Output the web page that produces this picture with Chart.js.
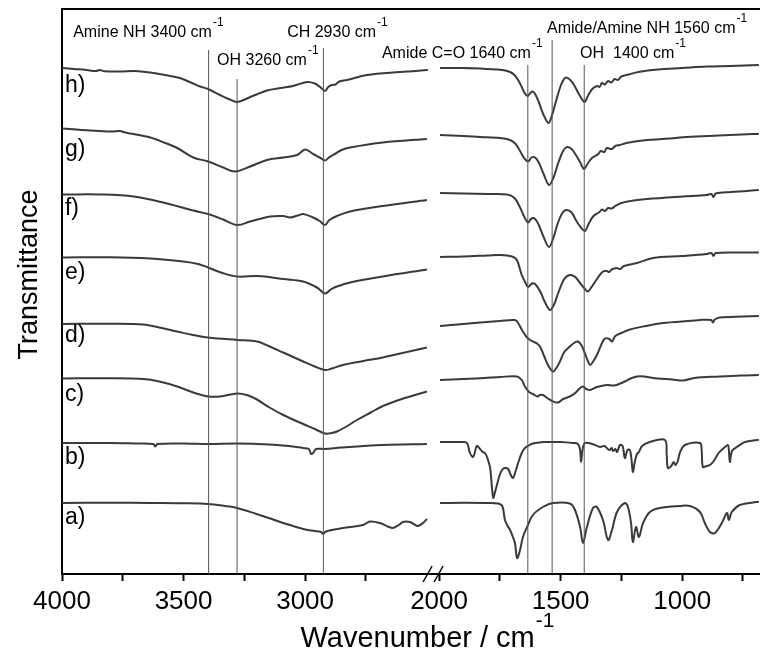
<!DOCTYPE html>
<html>
<head>
<meta charset="utf-8">
<script src="https://cdn.jsdelivr.net/npm/chart.js@4.4.1/dist/chart.umd.min.js"></script>
<style>
  html, body { margin: 0; padding: 0; background: #fff; }
</style>
</head>
<body>
<canvas id="ftir" width="760" height="660"></canvas>
<script>
// FTIR spectra, stacked traces a) .. h), transmittance in arbitrary units (offset per trace)
// each segment is [wavenumber, transmittance] pairs, high = 4000-2500, low = 2000-680

const aHigh = [[3999,14.2],[3800,14.25],[3637,14.2],[3500,14.15],[3399,14.0],[3330,13.6],[3280,13.2],[3200,12.0],[3150,11.2],[3090,10.2],[3008,9.0],[2960,8.6],[2935,8.4],[2926,8.0],[2918,8.4],[2890,8.8],[2844,9.2],[2762,9.8],[2733,10.5],[2692,10.2],[2660,9.5],[2639,9.2],[2615,9.8],[2598,10.4],[2569,10.4],[2550,9.9],[2536,9.6],[2515,10.2],[2499,11.0]];
const aLow = [[1996,14.2],[1900,14.25],[1800,14.2],[1758,14.1],[1740,13.6],[1729,10.8],[1718,9.6],[1708,8.8],[1698,7.6],[1688,6.2],[1679,3.2],[1667,4.8],[1655,7.4],[1638,9.4],[1614,11.8],[1573,13.4],[1531,14.2],[1462,14.1],[1441,12.8],[1420,9.4],[1408,6.2],[1392,9.4],[1367,13.2],[1351,13.4],[1326,10.8],[1305,6.8],[1289,8.8],[1268,12.4],[1236,14.2],[1223,13.4],[1210,10.0],[1203,6.4],[1190,9.4],[1178,7.4],[1161,10.2],[1133,12.4],[1092,13.2],[1009,13.6],[968,13.6],[927,12.4],[907,10.2],[886,8.4],[866,8.2],[837,10.2],[816,12.2],[808,10.8],[796,12.4],[763,13.8],[693,14.4],[685,14.4]];

const bHigh = [[3999,26.2],[3800,26.2],[3700,26.1],[3625,26.0],[3616,25.5],[3608,26.0],[3500,26.1],[3399,26.0],[3280,26.1],[3150,25.9],[3050,25.5],[3008,25.2],[2985,25.0],[2975,24.0],[2967,24.2],[2955,25.0],[2918,25.0],[2850,25.3],[2680,25.8],[2499,26.0]];
const bLow = [[1996,26.4],[1900,26.4],[1885,26.2],[1873,24.2],[1862,23.4],[1856,23.8],[1845,25.6],[1835,25.2],[1820,24.4],[1811,24.2],[1800,23.0],[1790,21.2],[1782,17.0],[1777,15.2],[1770,16.4],[1762,17.8],[1752,19.6],[1741,20.8],[1730,21.2],[1716,21.0],[1705,19.8],[1696,19.2],[1685,20.6],[1675,22.2],[1660,24.2],[1647,25.2],[1620,26.0],[1605,26.2],[1570,26.4],[1544,26.4],[1500,26.4],[1450,26.2],[1429,26.0],[1420,24.8],[1416,22.4],[1410,24.8],[1400,26.2],[1370,26.0],[1338,25.4],[1320,25.6],[1300,24.8],[1290,25.2],[1285,24.6],[1275,25.0],[1268,24.4],[1256,25.8],[1245,25.6],[1236,23.2],[1225,24.8],[1215,24.8],[1208,22.6],[1203,20.4],[1195,22.4],[1186,24.0],[1178,24.4],[1165,25.6],[1133,26.4],[1071,26.8],[1064,24.0],[1059,21.2],[1045,21.6],[1035,22.4],[1028,21.8],[1018,22.6],[1010,24.2],[989,25.8],[927,26.2],[920,24.8],[915,21.4],[900,21.6],[886,21.8],[870,22.6],[850,24.2],[824,25.4],[812,25.8],[808,24.8],[804,22.4],[795,24.6],[775,25.4],[742,26.4],[693,26.8],[685,26.8]];

const cHigh = [[3999,39.1],[3800,39.15],[3665,39.0],[3600,38.5],[3526,37.5],[3460,36.3],[3399,35.5],[3350,35.5],[3280,36.1],[3240,35.8],[3198,34.9],[3150,33.4],[3090,31.8],[3008,30.0],[2960,29.0],[2918,28.1],[2890,28.2],[2869,28.5],[2830,29.5],[2787,30.8],[2730,32.3],[2680,33.6],[2590,35.2],[2499,36.5]];
const cLow = [[1996,38.8],[1850,39.1],[1750,39.4],[1679,39.5],[1660,38.8],[1647,37.5],[1630,36.4],[1614,36.0],[1595,35.5],[1585,35.8],[1573,35.8],[1555,35.2],[1535,34.6],[1511,34.3],[1490,35.0],[1462,35.5],[1440,36.2],[1420,37.2],[1408,37.5],[1395,37.0],[1379,36.8],[1350,37.4],[1310,37.8],[1280,37.7],[1250,38.2],[1186,39.5],[1100,39.1],[1040,38.9],[997,38.7],[950,39.2],[845,39.5],[760,39.7],[685,39.8]];

const dHigh = [[3999,50.0],[3800,50.05],[3665,49.9],[3600,49.3],[3526,48.5],[3460,47.8],[3399,47.3],[3280,46.8],[3198,46.5],[3150,45.6],[3090,44.3],[3008,42.5],[2960,41.5],[2918,40.8],[2890,41.1],[2844,41.8],[2760,42.6],[2680,43.3],[2590,44.3],[2499,45.3]];
const dLow = [[1996,49.6],[1900,50.0],[1831,50.3],[1750,50.6],[1688,50.8],[1675,50.2],[1659,48.8],[1640,47.4],[1626,46.8],[1610,46.4],[1597,46.1],[1585,45.5],[1568,43.6],[1552,41.8],[1531,40.5],[1515,41.4],[1503,42.5],[1485,44.4],[1462,45.5],[1445,46.2],[1429,46.5],[1415,45.8],[1400,44.1],[1388,42.6],[1379,41.8],[1365,42.6],[1351,43.8],[1335,45.6],[1318,47.1],[1300,47.0],[1289,46.5],[1275,47.6],[1250,48.2],[1215,48.9],[1150,49.6],[1092,50.1],[1000,50.5],[927,50.8],[880,50.8],[874,50.3],[866,50.9],[845,51.3],[750,51.5],[685,51.6]];

const eHigh = [[3999,63.3],[3800,63.35],[3637,63.1],[3501,62.5],[3440,62.0],[3399,61.3],[3340,60.2],[3280,59.5],[3198,59.6],[3150,59.4],[3090,59.0],[3008,58.5],[2951,57.3],[2918,56.1],[2895,56.9],[2869,57.5],[2815,58.3],[2680,59.5],[2499,60.9]];
const eLow = [[1996,63.4],[1900,63.5],[1800,63.7],[1749,63.8],[1700,63.5],[1680,62.8],[1660,59.8],[1645,58.3],[1634,57.4],[1618,58.1],[1605,58.0],[1585,56.6],[1565,54.4],[1544,52.8],[1528,53.8],[1510,56.2],[1485,59.0],[1462,59.8],[1440,59.4],[1420,58.2],[1400,57.0],[1388,56.5],[1370,57.6],[1345,59.4],[1326,60.5],[1310,60.6],[1300,60.4],[1290,60.9],[1270,61.2],[1255,61.0],[1240,61.6],[1186,62.2],[1120,63.2],[1000,63.6],[900,64.0],[880,64.2],[872,63.6],[862,64.2],[760,64.3],[685,64.3]];

const fHigh = [[3999,75.9],[3843,75.9],[3706,75.5],[3568,74.1],[3460,72.7],[3399,72.0],[3337,70.9],[3280,69.8],[3226,70.5],[3144,71.5],[3090,71.6],[3061,71.3],[3030,71.7],[3008,72.0],[2967,71.3],[2940,70.6],[2918,69.8],[2900,70.8],[2869,71.6],[2815,72.5],[2680,73.6],[2499,74.8]];
const fLow = [[1996,76.2],[1900,76.1],[1800,76.0],[1720,75.9],[1690,75.2],[1670,73.6],[1650,71.5],[1634,70.3],[1620,71.1],[1605,71.0],[1590,69.8],[1570,67.4],[1548,65.4],[1530,67.2],[1510,70.4],[1490,72.4],[1474,72.8],[1455,72.3],[1435,70.6],[1415,69.2],[1400,68.6],[1385,70.0],[1365,71.6],[1340,72.4],[1330,72.9],[1318,72.6],[1305,73.2],[1290,73.1],[1275,73.6],[1250,74.2],[1200,74.7],[1145,75.0],[1000,75.5],[900,75.8],[880,76.0],[872,75.4],[862,76.1],[800,76.4],[685,76.8]];

const gHigh = [[3999,89.1],[3940,88.9],[3883,88.7],[3801,88.5],[3760,88.6],[3748,88.4],[3719,88.1],[3637,87.3],[3580,86.3],[3526,85.2],[3460,83.3],[3399,82.5],[3337,81.3],[3288,80.5],[3226,81.5],[3157,82.8],[3090,83.3],[3033,83.8],[3000,84.9],[2967,84.0],[2940,83.3],[2918,82.7],[2900,83.4],[2885,83.8],[2850,84.8],[2815,85.3],[2680,86.3],[2499,87.0]];
const gLow = [[1996,87.8],[1900,87.6],[1831,87.4],[1750,87.2],[1708,86.8],[1685,86.0],[1667,84.6],[1650,83.2],[1634,82.5],[1620,83.3],[1605,83.3],[1590,82.3],[1570,80.0],[1548,77.8],[1530,79.2],[1510,82.2],[1490,84.6],[1474,85.4],[1455,85.0],[1440,84.0],[1420,82.4],[1404,81.0],[1390,82.0],[1371,83.2],[1345,84.0],[1335,84.6],[1320,84.4],[1310,85.2],[1290,85.0],[1275,85.6],[1256,85.8],[1230,86.2],[1180,86.6],[1145,86.8],[1050,87.1],[981,87.4],[850,87.7],[710,88.0],[685,88.0]];

const hHigh = [[3999,101.2],[3950,101.0],[3900,100.8],[3860,100.6],[3845,100.8],[3825,100.55],[3760,100.5],[3700,100.6],[3637,100.3],[3575,99.8],[3515,99.2],[3470,98.3],[3432,97.5],[3399,97.0],[3350,95.8],[3310,94.9],[3280,94.4],[3230,95.3],[3157,96.7],[3100,97.2],[3050,97.6],[2992,98.4],[2960,98.1],[2938,97.4],[2918,96.6],[2905,97.4],[2890,97.8],[2875,97.9],[2860,98.5],[2828,98.8],[2746,99.8],[2610,100.4],[2495,100.8]];
const hLow = [[1996,101.2],[1900,101.2],[1800,101.0],[1740,100.8],[1708,100.4],[1690,99.8],[1675,98.8],[1660,97.4],[1648,96.2],[1636,95.6],[1625,96.2],[1615,96.5],[1605,96.0],[1590,94.4],[1570,91.8],[1550,90.2],[1538,91.4],[1520,94.4],[1500,97.6],[1482,99.2],[1465,99.0],[1445,97.8],[1425,96.0],[1402,94.4],[1388,95.6],[1370,97.0],[1350,97.6],[1340,97.4],[1330,98.2],[1318,97.9],[1305,98.6],[1292,98.3],[1278,99.0],[1265,98.8],[1250,99.5],[1220,99.9],[1180,100.4],[1100,100.9],[1000,101.2],[900,101.5],[800,101.6],[685,101.8]];

const traceLabels = ['a)', 'b)', 'c)', 'd)', 'e)', 'f)', 'g)', 'h)'];
const traceLabelLevels = [11.2, 23.3, 35.8, 47.6, 60.3, 73.0, 84.8, 97.6];
const highSegments = [aHigh, bHigh, cHigh, dHigh, eHigh, fHigh, gHigh, hHigh];
const lowSegments = [aLow, bLow, cLow, dLow, eLow, fLow, gLow, hLow];

// marker lines for the assigned bands
const bandPositions = [3397, 3280, 2925, 1635, 1535, 1403];
const bandLineTops = [104.8, 99.0, 105.2, 101.8, 106.8, 101.8];
const bandTexts = ['Amine NH 3400 cm', 'OH 3260 cm', 'CH 2930 cm', 'Amide C=O 1640 cm', 'Amide/Amine NH 1560 cm', 'OH  1400 cm'];
const bandTextX = [3954, 3362, 3074, 2684, 1556, 1420];
const bandTextY = [107.4, 101.8, 107.4, 103.2, 108.2, 103.2];

const highTicks = [4000, 3750, 3500, 3250, 3000, 2750];
const lowTicks = [2000, 1750, 1500, 1250, 1000, 750];
const highRange = [2449, 4000];
const lowRange = [680, 2000];

const FONT = '"Liberation Sans", Arial, sans-serif';
const INK = '#3a3a3a';

const toPoints = pairs => pairs.map(([x, y]) => ({ x, y }));

function spectrum(pairs, axis, label) {
  return {
    label,
    xAxisID: axis,
    data: toPoints(pairs),
    borderColor: INK,
    borderWidth: 2,
    pointRadius: 0,
    tension: 0.35,
    fill: false
  };
}

const datasets = [];
bandPositions.forEach((w, i) => {
  datasets.push({
    label: 'band ' + w,
    xAxisID: w > 2200 ? 'xHigh' : 'xLow',
    data: [{ x: w, y: 0 }, { x: w, y: bandLineTops[i] }],
    borderColor: '#555',
    borderWidth: 1,
    pointRadius: 0,
    tension: 0
  });
});
highSegments.forEach((s, i) => datasets.push(spectrum(s, 'xHigh', traceLabels[i])));
lowSegments.forEach((s, i) => datasets.push(spectrum(s, 'xLow', traceLabels[i])));

// text with a "-1" superscript
function textWithSup(ctx, text, sup, x, y, size, align) {
  const supSize = Math.round(size * 0.72);
  ctx.font = size + 'px ' + FONT;
  const w1 = ctx.measureText(text).width;
  ctx.font = supSize + 'px ' + FONT;
  const w2 = ctx.measureText(sup).width;
  const start = align === 'center' ? x - (w1 + w2) / 2 : x;
  ctx.textAlign = 'left';
  ctx.font = size + 'px ' + FONT;
  ctx.fillText(text, start, y);
  ctx.font = supSize + 'px ' + FONT;
  ctx.fillText(sup, start + w1 + 1, y - size * 0.68);
}

const decorations = {
  id: 'decorations',
  afterDraw(chart) {
    const { ctx, chartArea, scales } = chart;
    const { xHigh, y } = scales;
    ctx.save();
    ctx.fillStyle = '#000';
    ctx.strokeStyle = '#000';

    // top frame
    ctx.lineWidth = 2;
    ctx.beginPath();
    ctx.moveTo(chartArea.left - 1, chartArea.top);
    ctx.lineTo(chartArea.right, chartArea.top);
    ctx.stroke();

    // axis break marks
    const bx = xHigh.right, by = chartArea.bottom;
    ctx.lineWidth = 1.5;
    [[-16, -7], [-5, 4]].forEach(([x0, x1]) => {
      ctx.beginPath();
      ctx.moveTo(bx + x0, by + 8);
      ctx.lineTo(bx + x1, by - 8);
      ctx.stroke();
    });

    // band annotations
    ctx.textBaseline = 'alphabetic';
    bandTexts.forEach((t, i) => {
      const w = bandTextX[i];
      const sx = w > 2200 ? xHigh.getPixelForValue(w) : chart.scales.xLow.getPixelForValue(w);
      textWithSup(ctx, t, '-1', sx, y.getPixelForValue(bandTextY[i]), 16, 'left');
    });

    // trace labels
    ctx.font = '23px ' + FONT;
    ctx.textAlign = 'left';
    ctx.textBaseline = 'middle';
    traceLabels.forEach((t, i) => {
      ctx.fillText(t, xHigh.getPixelForValue(3988), y.getPixelForValue(traceLabelLevels[i]));
    });

    // axis titles
    ctx.textBaseline = 'alphabetic';
    textWithSup(ctx, 'Wavenumber / cm', '-1', (chartArea.left + chartArea.right) / 2 + 16, 647, 29, 'center');

    ctx.save();
    ctx.translate(37, (chartArea.top + chartArea.bottom) / 2 - 17);
    ctx.rotate(-Math.PI / 2);
    ctx.font = '27px ' + FONT;
    ctx.textAlign = 'center';
    ctx.fillText('Transmittance', 0, 0);
    ctx.restore();

    ctx.restore();
  }
};

function wavenumberAxis(range, ticks, weight) {
  return {
    type: 'linear',
    position: 'bottom',
    stack: 'wavenumber',
    stackWeight: weight,
    min: range[0],
    max: range[1],
    reverse: true,
    afterBuildTicks: scale => { scale.ticks = ticks.map(v => ({ value: v })); },
    afterFit: scale => { scale.height = 86; },
    ticks: {
      autoSkip: false,
      maxRotation: 0,
      padding: 5,
      color: '#000',
      font: { family: FONT, size: 26 },
      callback: v => (v % 500 === 0 ? v : '')
    },
    grid: {
      drawOnChartArea: false,
      drawTicks: true,
      tickLength: 7,
      tickColor: '#000',
      tickWidth: 2,
      color: '#000'
    },
    border: { display: true, color: '#000', width: 2 }
  };
}

new Chart(document.getElementById('ftir'), {
  type: 'line',
  data: { datasets },
  options: {
    responsive: false,
    animation: false,
    devicePixelRatio: 1,
    layout: { padding: { top: 9, right: 0, bottom: 0, left: 0 } },
    plugins: { legend: { display: false }, tooltip: { enabled: false } },
    scales: {
      xHigh: wavenumberAxis(highRange, highTicks, highRange[1] - highRange[0]),
      xLow: wavenumberAxis(lowRange, lowTicks, lowRange[1] - lowRange[0]),
      y: {
        type: 'linear',
        position: 'left',
        min: 0,
        max: 113,
        afterFit: scale => { scale.width = 62; },
        ticks: { display: false },
        grid: { display: false },
        border: { display: true, color: '#000', width: 2 }
      }
    }
  },
  plugins: [decorations]
});
</script>
</body>
</html>
